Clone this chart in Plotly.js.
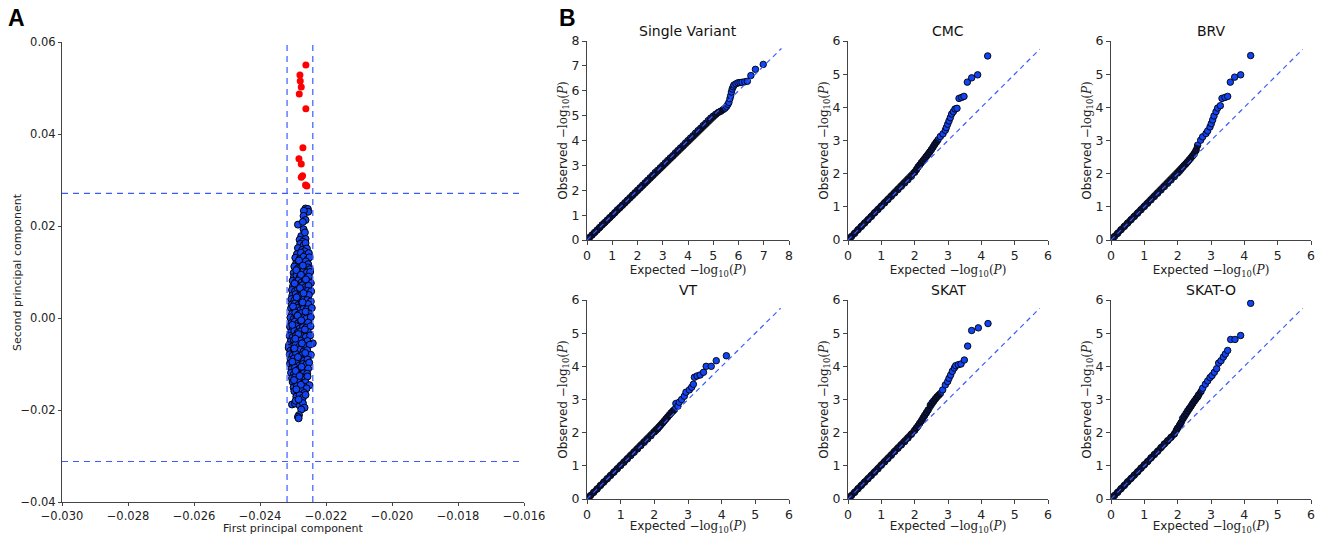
<!DOCTYPE html>
<html>
<head>
<meta charset="utf-8">
<script src="https://cdn.plot.ly/plotly-3.0.1.min.js"></script>
<style>
  html, body { margin: 0; padding: 0; background: #fff; }
  #chart { width: 1325px; height: 535px; }
</style>
</head>
<body>
<div id="chart"></div>
<script>
// ---------------- Panel A: principal components ----------------
const pcaRedX = [-0.02261,-0.02279,-0.02278,-0.02275,-0.02281,-0.02261,-0.02270,-0.02282,-0.02275,-0.02271,-0.02275,-0.02262,-0.02258];
const pcaRedY = [0.0550,0.0528,0.0515,0.0502,0.0487,0.0455,0.0370,0.0346,0.0335,0.0309,0.0306,0.0289,0.0287];

const pcaBluePoints = [
  [-0.02262,0.0238],[-0.02255,0.0237],[-0.02254,0.0231],[-0.02267,0.0233],[-0.02285,0.0203],[-0.02268,0.0222],
  [-0.02262,0.0213],[-0.02270,0.0209],[-0.02268,0.0193],[-0.02275,0.0178],[-0.02262,0.0172],[-0.02280,0.0170],
  [-0.02270,0.0166],[-0.02264,0.0186],
  [-0.02278,0.0161],[-0.02268,0.0158],[-0.02262,0.0163],
  [-0.02285,0.0152],[-0.02272,0.0148],[-0.02258,0.0151],[-0.02265,0.0145],
  [-0.02288,0.0139],[-0.02276,0.0142],[-0.02262,0.0137],[-0.02252,0.0141],
  [-0.02293,0.0131],[-0.02280,0.0128],[-0.02268,0.0133],[-0.02256,0.0127],[-0.02250,0.0132],
  [-0.02291,0.0118],[-0.02283,0.0122],[-0.02272,0.0119],[-0.02261,0.0123],[-0.02254,0.0117],
  [-0.02296,0.0112],[-0.02285,0.0108],[-0.02275,0.0111],[-0.02266,0.0107],[-0.02255,0.0110],[-0.02249,0.0106],
  [-0.02298,0.0098],[-0.02287,0.0102],[-0.02278,0.0097],[-0.02269,0.0101],[-0.02258,0.0099],[-0.02248,0.0100],
  [-0.02297,0.0089],[-0.02289,0.0092],[-0.02280,0.0088],[-0.02271,0.0091],[-0.02262,0.0087],[-0.02252,0.0090],
  [-0.02301,0.0081],[-0.02292,0.0078],[-0.02283,0.0082],[-0.02274,0.0077],[-0.02264,0.0080],[-0.02254,0.0079],[-0.02246,0.0076],
  [-0.02300,0.0069],[-0.02290,0.0072],[-0.02281,0.0068],[-0.02272,0.0071],[-0.02262,0.0067],[-0.02253,0.0070],
  [-0.02303,0.0061],[-0.02294,0.0058],[-0.02285,0.0062],[-0.02276,0.0057],[-0.02266,0.0060],[-0.02256,0.0059],[-0.02245,0.0058],
  [-0.02302,0.0049],[-0.02292,0.0052],[-0.02283,0.0048],[-0.02273,0.0051],[-0.02263,0.0047],[-0.02252,0.0050],
  [-0.02305,0.0041],[-0.02296,0.0038],[-0.02287,0.0042],[-0.02277,0.0037],[-0.02267,0.0040],[-0.02257,0.0039],[-0.02246,0.0036],
  [-0.02304,0.0029],[-0.02294,0.0032],[-0.02284,0.0028],[-0.02274,0.0031],[-0.02264,0.0027],[-0.02254,0.0030],
  [-0.02306,0.0021],[-0.02297,0.0018],[-0.02288,0.0022],[-0.02278,0.0017],[-0.02268,0.0020],[-0.02258,0.0019],[-0.02243,0.0022],
  [-0.02303,0.0009],[-0.02293,0.0012],[-0.02283,0.0008],[-0.02273,0.0011],[-0.02263,0.0007],[-0.02251,0.0010],
  [-0.02308,0.0001],[-0.02298,-0.0002],[-0.02289,0.0002],[-0.02279,-0.0003],[-0.02269,0.0000],[-0.02259,-0.0001],[-0.02246,0.0002],
  [-0.02305,-0.0011],[-0.02295,-0.0008],[-0.02285,-0.0012],[-0.02275,-0.0009],[-0.02265,-0.0013],[-0.02254,-0.0010],
  [-0.02309,-0.0019],[-0.02300,-0.0022],[-0.02290,-0.0018],[-0.02280,-0.0023],[-0.02270,-0.0020],[-0.02260,-0.0021],[-0.02247,-0.0018],
  [-0.02306,-0.0031],[-0.02296,-0.0028],[-0.02286,-0.0032],[-0.02276,-0.0029],[-0.02266,-0.0033],[-0.02255,-0.0030],
  [-0.02310,-0.0039],[-0.02301,-0.0042],[-0.02291,-0.0038],[-0.02281,-0.0043],[-0.02271,-0.0040],[-0.02261,-0.0041],[-0.02248,-0.0038],
  [-0.02307,-0.0051],[-0.02297,-0.0048],[-0.02287,-0.0052],[-0.02277,-0.0049],[-0.02267,-0.0053],[-0.02256,-0.0050],[-0.02240,-0.0055],
  [-0.02312,-0.0059],[-0.02302,-0.0062],[-0.02292,-0.0058],[-0.02282,-0.0063],[-0.02272,-0.0060],[-0.02262,-0.0061],[-0.02249,-0.0058],
  [-0.02313,-0.0065],[-0.02308,-0.0071],[-0.02298,-0.0068],[-0.02288,-0.0072],[-0.02278,-0.0069],[-0.02268,-0.0073],[-0.02257,-0.0070],
  [-0.02310,-0.0079],[-0.02301,-0.0082],[-0.02291,-0.0078],[-0.02281,-0.0083],[-0.02271,-0.0080],[-0.02260,-0.0081],[-0.02246,-0.0080],
  [-0.02307,-0.0091],[-0.02297,-0.0088],[-0.02287,-0.0092],[-0.02277,-0.0089],[-0.02267,-0.0093],[-0.02256,-0.0090],
  [-0.02309,-0.0099],[-0.02300,-0.0102],[-0.02290,-0.0098],[-0.02280,-0.0103],[-0.02270,-0.0100],[-0.02259,-0.0101],[-0.02251,-0.0097],
  [-0.02304,-0.0111],[-0.02294,-0.0108],[-0.02284,-0.0112],[-0.02274,-0.0109],[-0.02264,-0.0113],[-0.02254,-0.0110],
  [-0.02306,-0.0119],[-0.02297,-0.0122],[-0.02287,-0.0118],[-0.02277,-0.0123],[-0.02267,-0.0120],[-0.02257,-0.0121],
  [-0.02303,-0.0131],[-0.02293,-0.0128],[-0.02283,-0.0132],[-0.02273,-0.0129],[-0.02263,-0.0133],[-0.02256,-0.0127],
  [-0.02301,-0.0139],[-0.02291,-0.0142],[-0.02281,-0.0138],[-0.02271,-0.0143],[-0.02262,-0.0140],[-0.02250,-0.0146],
  [-0.02298,-0.0151],[-0.02288,-0.0148],[-0.02278,-0.0152],[-0.02268,-0.0149],[-0.02259,-0.0153],
  [-0.02296,-0.0159],[-0.02285,-0.0162],[-0.02275,-0.0158],[-0.02266,-0.0163],
  [-0.02290,-0.0171],[-0.02280,-0.0168],[-0.02270,-0.0173],[-0.02262,-0.0167],
  [-0.02303,-0.0188],[-0.02294,-0.0186],[-0.02280,-0.0190],[-0.02270,-0.0185],[-0.02265,-0.0195],[-0.02275,-0.0199],
  [-0.02282,-0.0211],[-0.02285,-0.0215],[-0.02283,-0.0218],[-0.02292,-0.0180],
  // second, offset layer in the dense core
  [-0.02282,0.0125],[-0.02270,0.0114],[-0.02290,0.0104],[-0.02276,0.0094],[-0.02261,0.0084],[-0.02295,0.0075],
  [-0.02279,0.0065],[-0.02268,0.0054],[-0.02289,0.0045],[-0.02271,0.0034],[-0.02300,0.0025],[-0.02262,0.0014],
  [-0.02286,0.0005],[-0.02275,-0.0005],[-0.02302,-0.0015],[-0.02264,-0.0025],[-0.02284,-0.0035],[-0.02293,-0.0045],
  [-0.02273,-0.0055],[-0.02296,-0.0066],[-0.02263,-0.0076],[-0.02285,-0.0085],[-0.02302,-0.0095],[-0.02274,-0.0106],
  [-0.02292,-0.0115],[-0.02280,-0.0126],[-0.02297,-0.0135],[-0.02276,-0.0145],[-0.02290,-0.0155],[-0.02283,-0.0177]
];
const pcaThresholdX = [-0.02318, -0.02240];
const pcaThresholdY = [0.0271, -0.0312];
const pcaXTicks = [-0.030,-0.028,-0.026,-0.024,-0.022,-0.020,-0.018,-0.016];
const pcaYTicks = [-0.04,-0.02,0.00,0.02,0.04,0.06];

// ---------------- Panel B: QQ plots ----------------
const panelTitles = ['Single Variant','CMC','BRV','VT','SKAT','SKAT-O'];
const axisMax = [8, 6, 6, 6, 6, 6];
const diagEnd = [7.7, 5.75, 5.75, 5.75, 5.75, 5.75];
// expected value up to which the points merge into a solid band
const denseUntil = [5.4, 2.7, 2.6, 2.6, 2.8, 2.7];

const svExp = [0,0.1,0.2,0.3,0.4,0.5,0.6,0.7,0.8,0.9,1.0,1.1,1.2,1.3,1.4,1.5,1.6,1.7,1.8,1.9,2.0,2.1,2.2,2.3,2.4,2.5,2.6,2.7,2.8,2.9,3.0,3.1,3.2,3.3,3.4,3.5,3.6,3.7,3.8,3.9,4.0,4.1,4.2,4.3,4.4,4.5,4.6,4.7,4.8,4.9,5.0,5.1,5.2,5.3,5.4,
  5.47,5.53,5.58,5.62,5.66,5.69,5.72,5.75,5.79,5.82,5.9,5.98,6.06,6.14,6.25,6.35,6.49,6.67,6.98];
const svObs = [0,0.1,0.2,0.3,0.4,0.5,0.61,0.7,0.8,0.9,1.0,1.1,1.21,1.3,1.4,1.5,1.6,1.7,1.8,1.9,2.0,2.1,2.2,2.3,2.4,2.5,2.6,2.71,2.8,2.9,3.0,3.1,3.2,3.3,3.39,3.5,3.6,3.7,3.79,3.9,4.0,4.1,4.19,4.3,4.4,4.49,4.6,4.69,4.8,4.9,4.98,5.06,5.13,5.18,5.25,
  5.3,5.37,5.45,5.53,5.68,5.8,5.95,6.07,6.16,6.23,6.28,6.32,6.33,6.34,6.36,6.38,6.61,6.86,7.06];

const cmcExp = [0,0.1,0.2,0.3,0.4,0.5,0.6,0.7,0.8,0.9,1.0,1.1,1.2,1.3,1.4,1.5,1.6,1.7,1.8,1.9,2.0,
  2.05,2.1,2.15,2.2,2.25,2.3,2.35,2.4,2.45,2.5,2.55,2.6,2.65,2.7,
  2.77,2.85,2.92,2.95,2.99,3.03,3.07,3.11,3.16,3.21,3.27,3.33,3.41,3.48,3.58,3.71,3.89,4.19];
const cmcObs = [0,0.1,0.2,0.31,0.41,0.51,0.61,0.71,0.82,0.92,1.02,1.12,1.22,1.32,1.42,1.52,1.62,1.72,1.82,1.92,2.04,
  2.12,2.2,2.26,2.33,2.39,2.45,2.52,2.58,2.65,2.72,2.8,2.88,2.95,3.02,
  3.12,3.2,3.31,3.39,3.49,3.59,3.69,3.8,3.87,3.95,3.97,4.27,4.3,4.33,4.76,4.89,4.98,5.55];

const brvExp = [0,0.1,0.2,0.3,0.4,0.5,0.6,0.7,0.8,0.9,1.0,1.1,1.2,1.3,1.4,1.5,1.6,1.7,1.8,1.9,2.0,
  2.05,2.1,2.15,2.2,2.25,2.3,2.35,2.4,2.45,2.5,2.55,2.6,
  2.69,2.75,2.85,2.9,2.97,3.01,3.05,3.09,3.15,3.2,3.28,3.33,3.42,3.5,3.58,3.71,3.89,4.19];
const brvObs = [0,0.1,0.2,0.31,0.41,0.51,0.61,0.71,0.81,0.91,1.01,1.11,1.21,1.31,1.41,1.51,1.61,1.71,1.81,1.91,2.02,
  2.07,2.13,2.19,2.25,2.3,2.36,2.42,2.48,2.54,2.6,2.7,2.86,
  3.01,3.11,3.21,3.29,3.41,3.51,3.62,3.74,3.87,3.98,4.05,4.27,4.3,4.33,4.76,4.91,4.98,5.56];

const vtExp = [0,0.1,0.2,0.3,0.4,0.5,0.6,0.7,0.8,0.9,1.0,1.1,1.2,1.3,1.4,1.5,1.6,1.7,1.8,1.9,2.0,
  2.05,2.1,2.15,2.2,2.25,2.3,2.35,2.4,2.45,2.5,2.55,2.6,
  2.64,2.7,2.74,2.81,2.89,2.94,3.04,3.11,3.16,3.19,3.27,3.36,3.46,3.54,3.69,3.84,4.14];
const vtObs = [0,0.1,0.2,0.3,0.41,0.51,0.61,0.71,0.81,0.91,1.01,1.11,1.21,1.31,1.41,1.51,1.61,1.71,1.81,1.91,2.02,
  2.07,2.12,2.18,2.24,2.3,2.36,2.42,2.48,2.54,2.6,2.65,2.7,
  2.88,2.8,2.92,3.0,3.1,3.22,3.29,3.37,3.46,3.67,3.71,3.74,3.82,4.0,4.0,4.17,4.32];

const skatExp = [0,0.1,0.2,0.3,0.4,0.5,0.6,0.7,0.8,0.9,1.0,1.1,1.2,1.3,1.4,1.5,1.6,1.7,1.8,1.9,2.0,
  2.05,2.1,2.15,2.2,2.25,2.3,2.35,2.4,2.47,2.52,2.57,2.62,2.67,2.72,2.77,
  2.84,2.92,2.99,3.03,3.08,3.13,3.19,3.23,3.31,3.39,3.49,3.59,3.71,3.91,4.2];
const skatObs = [0,0.1,0.2,0.31,0.41,0.51,0.61,0.71,0.81,0.91,1.02,1.12,1.22,1.32,1.43,1.53,1.63,1.73,1.84,1.95,2.07,
  2.14,2.2,2.28,2.35,2.44,2.52,2.6,2.68,2.83,2.9,2.96,3.02,3.08,3.13,3.18,
  3.29,3.44,3.54,3.64,3.74,3.85,3.95,4.02,4.05,4.07,4.19,4.61,5.08,5.16,5.29];

const skatoExp = [0,0.1,0.2,0.3,0.4,0.5,0.6,0.7,0.8,0.9,1.0,1.1,1.2,1.3,1.4,1.5,1.6,1.7,1.8,1.9,
  1.96,2.0,2.06,2.1,2.15,2.2,2.25,2.3,2.35,2.4,2.45,2.5,2.55,2.6,2.63,2.7,2.75,
  2.83,2.9,2.97,3.03,3.1,3.17,3.23,3.3,3.37,3.43,3.5,3.59,3.72,3.89,4.19];
const skatoObs = [0,0.1,0.2,0.31,0.41,0.52,0.62,0.72,0.82,0.93,1.03,1.13,1.24,1.34,1.44,1.55,1.66,1.76,1.86,1.96,
  2.07,2.14,2.23,2.3,2.43,2.5,2.58,2.66,2.73,2.8,2.88,2.95,3.02,3.08,3.14,3.24,3.34,
  3.46,3.56,3.66,3.72,3.82,3.93,4.1,4.17,4.28,4.37,4.48,4.81,4.81,4.93,5.9];

const qqExp = [svExp, cmcExp, brvExp, vtExp, skatExp, skatoExp];
const qqObs = [svObs, cmcObs, brvObs, vtObs, skatObs, skatoObs];

// ---------------- build figure ----------------
const W = 1325, H = 535;
const px2x = p => p / W;
const px2y = p => 1 - p / H;

const FONT = 'DejaVu Sans, Liberation Sans, sans-serif';
const BLUE = '#1044f5';
const DASH = '#3a5cff';
const AXC = '#444';

const colDom = [[587, 789], [848, 1048], [1111, 1311]];
const rowDom = [[41, 240], [300, 499]];

const traces = [];
const layout = {
  width: W, height: H,
  margin: {l: 0, r: 0, t: 0, b: 0},
  paper_bgcolor: '#fff', plot_bgcolor: 'rgba(0,0,0,0)',
  showlegend: false,
  font: {family: FONT, color: '#222'},
  shapes: [], annotations: []
};

// Panel A
traces.push({
  type: 'scatter', mode: 'markers', xaxis: 'x', yaxis: 'y',
  x: pcaBluePoints.map(p => p[0]), y: pcaBluePoints.map(p => p[1]),
  marker: {color: BLUE, size: 7, line: {color: '#000', width: 1}},
  hoverinfo: 'skip'
});
traces.push({
  type: 'scatter', mode: 'markers', xaxis: 'x', yaxis: 'y',
  x: pcaRedX, y: pcaRedY,
  marker: {color: '#ff0000', size: 7, line: {width: 0}},
  hoverinfo: 'skip'
});
const axBase = {
  showgrid: false, zeroline: false, showline: true, linecolor: AXC, linewidth: 1,
  ticks: 'outside', ticklen: 4, tickwidth: 1, tickcolor: AXC, mirror: false,
  fixedrange: true
};
layout.xaxis = Object.assign({}, axBase, {
  domain: [px2x(62), px2x(524)], anchor: 'y',
  range: [-0.030, -0.016], tickvals: pcaXTicks, tickformat: '.3f', ticklen: 3,
  tickfont: {family: FONT, size: 11.5, color: '#222'},
  title: {text: 'First principal component', font: {family: FONT, size: 11, color: '#222'}, standoff: 6}
});
layout.yaxis = Object.assign({}, axBase, {
  domain: [px2y(502), px2y(42)], anchor: 'x',
  range: [-0.04, 0.06], tickvals: pcaYTicks, tickformat: '.2f', ticklen: 3,
  tickfont: {family: FONT, size: 11.5, color: '#222'}
});
layout.annotations.push({
  xref: 'paper', yref: 'y domain', x: px2x(17), y: 0.5, xanchor: 'center', yanchor: 'middle',
  textangle: -90, showarrow: false, text: 'Second principal component',
  font: {family: FONT, size: 11, color: '#222'}
});
pcaThresholdX.forEach(v => layout.shapes.push({
  type: 'line', xref: 'x', yref: 'y', x0: v, x1: v, y0: -0.04, y1: 0.06,
  line: {color: DASH, width: 1.2, dash: '6px,5px'}
}));
pcaThresholdY.forEach(v => layout.shapes.push({
  type: 'line', xref: 'x', yref: 'y', x0: -0.030, x1: -0.016, y0: v, y1: v,
  line: {color: DASH, width: 1.2, dash: '6px,5px'}
}));

// Panel B
const mathLabel = '<span style="font-family:DejaVu Serif">−log<sub>10</sub>(<i>P</i>)</span>';
for (let i = 0; i < 6; i++) {
  const n = i + 2;
  const xa = 'x' + n, ya = 'y' + n;
  const col = colDom[i % 3], row = rowDom[Math.floor(i / 3)];
  const denseX = qqExp[i].filter(v => v <= denseUntil[i]);
  const denseY = qqObs[i].slice(0, denseX.length);
  traces.push({
    type: 'scatter', mode: 'markers', xaxis: xa, yaxis: ya,
    x: qqExp[i], y: qqObs[i],
    marker: {color: BLUE, size: 6.5, line: {color: '#000', width: 0.9}},
    hoverinfo: 'skip'
  });
  traces.push({
    type: 'scatter', mode: 'lines', xaxis: xa, yaxis: ya,
    x: denseX, y: denseY,
    line: {color: 'rgba(8,8,24,0.85)', width: 6.5},
    hoverinfo: 'skip'
  });
  traces.push({
    type: 'scatter', mode: 'lines', xaxis: xa, yaxis: ya,
    x: [0, diagEnd[i]], y: [0, diagEnd[i]],
    line: {color: DASH, width: 1.2, dash: '5px,4px'},
    hoverinfo: 'skip'
  });
  layout['xaxis' + n] = Object.assign({}, axBase, {
    domain: [px2x(col[0]), px2x(col[1])], anchor: ya,
    range: [0, axisMax[i]], dtick: 1, tick0: 0,
    tickfont: {family: FONT, size: 12.5, color: '#222'},
    title: {text: 'Expected ' + mathLabel, font: {family: FONT, size: 12, color: '#222'}, standoff: 2}
  });
  layout['yaxis' + n] = Object.assign({}, axBase, {
    domain: [px2y(row[1]), px2y(row[0])], anchor: xa,
    range: [0, axisMax[i]], dtick: 1, tick0: 0,
    tickfont: {family: FONT, size: 12.5, color: '#222'},
    title: {text: 'Observed ' + mathLabel, font: {family: FONT, size: 12, color: '#222'}, standoff: 1}
  });
  layout.annotations.push({
    xref: xa + ' domain', yref: ya + ' domain', x: 0.5, y: 1,
    xanchor: 'center', yanchor: 'bottom', yshift: 0, showarrow: false,
    text: panelTitles[i], font: {family: FONT, size: 14, color: '#111'}
  });
}

layout.annotations.push({
  xref: 'paper', yref: 'paper', x: px2x(16), y: px2y(18), xanchor: 'center', yanchor: 'middle',
  showarrow: false, text: '<b>A</b>', font: {family: 'Liberation Sans, Arial, sans-serif', size: 23, color: '#000'}
});
layout.annotations.push({
  xref: 'paper', yref: 'paper', x: px2x(567), y: px2y(18), xanchor: 'center', yanchor: 'middle',
  showarrow: false, text: '<b>B</b>', font: {family: 'Liberation Sans, Arial, sans-serif', size: 23, color: '#000'}
});

Plotly.newPlot('chart', traces, layout, {staticPlot: true, displayModeBar: false});
</script>
</body>
</html>
